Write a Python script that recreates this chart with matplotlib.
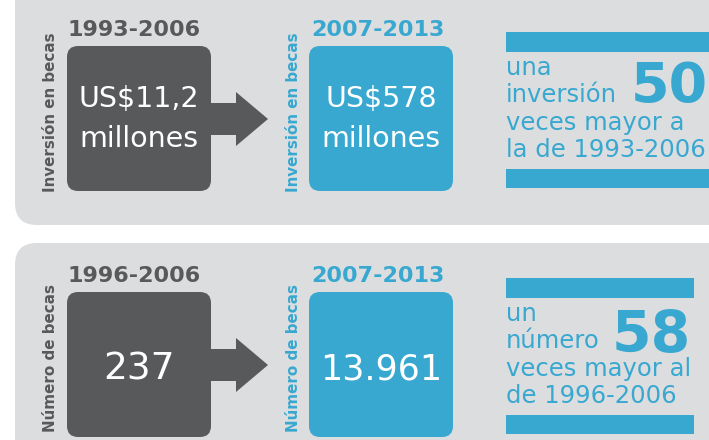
import matplotlib.pyplot as plt
from matplotlib.patches import FancyBboxPatch, Polygon, Rectangle

# ---- data ----
periods_old = ["1993-2006", "1996-2006"]
periods_new = ["2007-2013", "2007-2013"]
side_labels = ["Inversión en becas", "Número de becas"]
values_old = ["US$11,2\nmillones", "237"]
values_new = ["US$578\nmillones", "13.961"]
multipliers = ["50", "58"]
blurb_lines = [["una", "inversión", "veces mayor a", "la de 1993-2006"],
               ["un", "número", "veces mayor al", "de 1996-2006"]]

DARK = "#58595B"
BLUE = "#38A8D0"
PANEL = "#DCDDDF"

W, H = 709, 440
fig = plt.figure(figsize=(W / 100, H / 100), dpi=100)
ax = fig.add_axes([0, 0, 1, 1])
ax.set_xlim(0, W)
ax.set_ylim(H, 0)
ax.axis("off")

# panel layout (pixel coords, y down)
panel_top = [-20, 243]
panel_bot = [225, 470]
offset = [0, 246]

for i in range(2):
    dy = offset[i]
    ax.add_patch(FancyBboxPatch((15, panel_top[i]), 720, panel_bot[i] - panel_top[i],
                                boxstyle="round,pad=0,rounding_size=22",
                                fc=PANEL, ec="none"))
    # boxes
    ax.add_patch(FancyBboxPatch((67, 46 + dy), 144, 145,
                                boxstyle="round,pad=0,rounding_size=11",
                                fc=DARK, ec="none"))
    ax.add_patch(FancyBboxPatch((309, 46 + dy), 144, 145,
                                boxstyle="round,pad=0,rounding_size=11",
                                fc=BLUE, ec="none"))
    # arrow
    cy = 119 + dy
    ax.add_patch(Polygon([(205, cy - 16), (236, cy - 16), (236, cy - 27), (268, cy),
                          (236, cy + 27), (236, cy + 16), (205, cy + 16)],
                         closed=True, fc=DARK, ec="none"))
    # period labels
    ax.text(68, 36 + dy, periods_old[i], color=DARK, fontsize=16, fontweight="bold",
            ha="left", va="baseline")
    ax.text(311, 36 + dy, periods_new[i], color=BLUE, fontsize=16, fontweight="bold",
            ha="left", va="baseline")
    # side labels
    ax.text(51, 112 + dy, side_labels[i], color=DARK, fontsize=10.9, fontweight="bold",
            rotation=90, ha="center", va="center")
    ax.text(294, 112 + dy, side_labels[i], color=BLUE, fontsize=10.9, fontweight="bold",
            rotation=90, ha="center", va="center")
    # values
    if i == 0:
        for j, (a, b) in enumerate(zip(values_old[i].split("\n"), values_new[i].split("\n"))):
            ax.text(139, 107 + 40 * j, a, color="white", fontsize=20.5, ha="center", va="baseline")
            ax.text(381, 107 + 40 * j, b, color="white", fontsize=20.5, ha="center", va="baseline")
    else:
        ax.text(139, 134 + dy, values_old[i], color="white", fontsize=27, ha="center", va="baseline")
        ax.text(381, 134 + dy, values_new[i], color="white", fontsize=25, ha="center", va="baseline")

    # right blurb
    right = 720 if i == 0 else 694
    ax.add_patch(Rectangle((506, 32 + dy), right - 506, 20, fc=BLUE, ec="none"))
    ax.add_patch(Rectangle((506, 169 + dy), right - 506, 19, fc=BLUE, ec="none"))
    for k, line in enumerate(blurb_lines[i]):
        ax.text(506, 75 + dy + 27.3 * k, line, color=BLUE, fontsize=17.5,
                ha="left", va="baseline")

ax.text(631, 102, multipliers[0], color=BLUE, fontsize=40, fontweight="bold",
        ha="left", va="baseline")
ax.text(612, 352, multipliers[1], color=BLUE, fontsize=41, fontweight="bold",
        ha="left", va="baseline")

fig.savefig("out.png", dpi=100, facecolor="white")
